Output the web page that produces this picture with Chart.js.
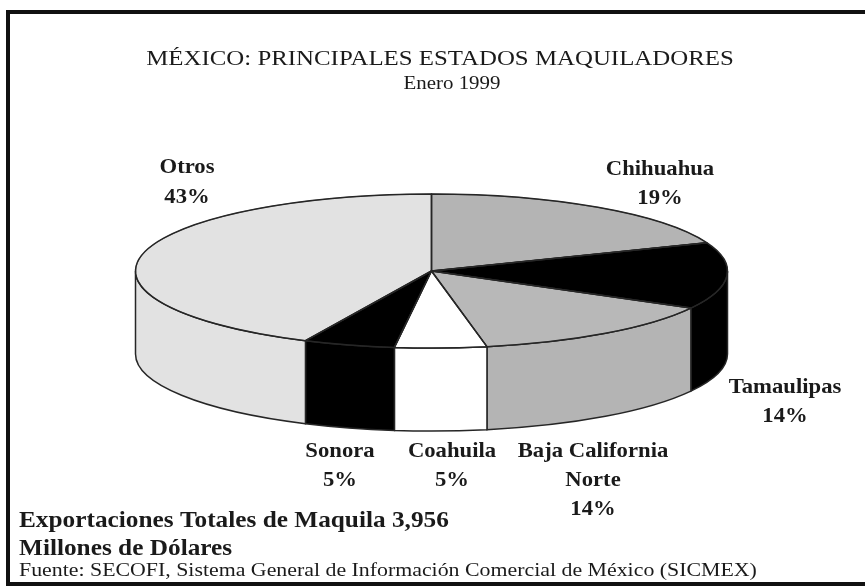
<!DOCTYPE html>
<html>
<head>
<meta charset="utf-8">
<script src="https://cdn.jsdelivr.net/npm/chart.js@4.4.1/dist/chart.umd.min.js"></script>
<style>
  html, body { margin: 0; padding: 0; background: #ffffff; width: 865px; height: 588px; overflow: hidden; }
  #frame { position: absolute; left: 6px; top: 10px; width: 900px; height: 576px; border: 4px solid #111; box-sizing: border-box; }
  #wrap { position: absolute; left: 0; top: 0; width: 865px; height: 588px; }
</style>
</head>
<body>
<div id="frame"></div>
<div id="wrap"><canvas id="c" width="865" height="588"></canvas></div>
<script>
// ---- data ----
const categories = ['Chihuahua', 'Tamaulipas', 'Baja California Norte', 'Coahuila', 'Sonora', 'Otros'];
const shares = [19, 14, 14, 5, 5, 43];
const titleText = 'MÉXICO: PRINCIPALES ESTADOS MAQUILADORES';
const subtitleText = 'Enero 1999';
const totalText = 'Exportaciones Totales de Maquila 3,956';
const unitText = 'Millones de Dólares';
const sourceText = 'Fuente: SECOFI, Sistema General de Información Comercial de México (SICMEX)';

// ---- style ----
const sliceColors = ['#b4b4b4', '#000000', '#b8b8b8', '#ffffff', '#000000', '#e2e2e2'];
const sideColors  = ['#b0b0b0', '#000000', '#b4b4b4', '#ffffff', '#000000', '#e2e2e2'];
const PIE_R = 296, SQUASH = 77 / 296, DEPTH = 83;
const SERIF = '"Liberation Serif", "Times New Roman", serif';
const INK = '#1a1a1a';
const EDGE = '#262626';

// label placement: [lines], centre x, first baseline y, line gap
const labelLayout = [
  { lines: ['Chihuahua', '19%'], x: 660, y: 175, gap: 29 },
  { lines: ['Tamaulipas', '14%'], x: 785, y: 393, gap: 29 },
  { lines: ['Baja California', 'Norte', '14%'], x: 593, y: 457, gap: 29 },
  { lines: ['Coahuila', '5%'], x: 452, y: 457, gap: 29 },
  { lines: ['Sonora', '5%'], x: 340, y: 457, gap: 29 },
  { lines: ['Otros', '43%'], x: 187, y: 173, gap: 30 }
];

function drawStretched(ctx, text, x, y, align, sx) {
  ctx.save();
  ctx.translate(x, y);
  ctx.scale(sx, 1);
  ctx.textAlign = align;
  ctx.fillText(text, 0, 0);
  ctx.restore();
}

const pie3d = {
  id: 'pie3d',
  beforeDatasetsDraw(chart) {
    const ctx = chart.ctx;
    const meta = chart.getDatasetMeta(0);
    const a0 = meta.data[0];
    const cx = a0.x, cy = a0.y;
    const rx = a0.outerRadius, ry = rx * SQUASH;
    ctx.save();
    ctx.lineWidth = 1.5;
    ctx.strokeStyle = EDGE;
    meta.data.forEach((arc, i) => {
      const s = Math.max(arc.startAngle, 0);
      const e = Math.min(arc.endAngle, Math.PI);
      if (e <= s) return;
      ctx.beginPath();
      ctx.ellipse(cx, cy, rx, ry, 0, s, e, false);
      ctx.lineTo(cx + rx * Math.cos(e), cy + DEPTH + ry * Math.sin(e));
      ctx.ellipse(cx, cy + DEPTH, rx, ry, 0, e, s, true);
      ctx.closePath();
      ctx.fillStyle = sideColors[i];
      ctx.fill();
      ctx.stroke();
    });
    ctx.restore();
    ctx.save();
    ctx.translate(cx, cy);
    ctx.scale(1, SQUASH);
    ctx.translate(-cx, -cy);
  },
  afterDatasetsDraw(chart) {
    const ctx = chart.ctx;
    ctx.restore();
    const meta = chart.getDatasetMeta(0);
    const a0 = meta.data[0];
    const cx = a0.x, cy = a0.y;
    const rx = a0.outerRadius, ry = rx * SQUASH;
    ctx.save();
    ctx.lineWidth = 1.5;
    ctx.strokeStyle = EDGE;
    ctx.lineJoin = 'round';
    meta.data.forEach((arc) => {
      ctx.beginPath();
      ctx.moveTo(cx, cy);
      ctx.ellipse(cx, cy, rx, ry, 0, arc.startAngle, arc.endAngle, false);
      ctx.closePath();
      ctx.stroke();
    });
    ctx.restore();
  },
  afterDraw(chart) {
    const ctx = chart.ctx;
    ctx.save();
    ctx.fillStyle = INK;
    ctx.textBaseline = 'alphabetic';
    ctx.font = '22px ' + SERIF;
    drawStretched(ctx, titleText, 440, 65, 'center', 1.13);
    ctx.font = '19px ' + SERIF;
    drawStretched(ctx, subtitleText, 452, 89, 'center', 1.1);
    ctx.font = 'bold 21px ' + SERIF;
    labelLayout.forEach((lab) => {
      lab.lines.forEach((t, j) => drawStretched(ctx, t, lab.x, lab.y + j * lab.gap, 'center', 1.08));
    });
    ctx.font = 'bold 23px ' + SERIF;
    drawStretched(ctx, totalText, 19, 527, 'left', 1.1);
    drawStretched(ctx, unitText, 19, 555, 'left', 1.1);
    ctx.font = '19px ' + SERIF;
    drawStretched(ctx, sourceText, 19, 576, 'left', 1.15);
    ctx.restore();
  }
};

new Chart(document.getElementById('c'), {
  type: 'pie',
  data: {
    labels: categories,
    datasets: [{
      data: shares,
      backgroundColor: sliceColors,
      borderColor: EDGE,
      borderWidth: 1,
      clip: false
    }]
  },
  options: {
    responsive: false,
    animation: false,
    events: [],
    radius: PIE_R,
    layout: { padding: { top: 95, bottom: 141, left: 0, right: 2 } },
    plugins: {
      legend: { display: false },
      tooltip: { enabled: false },
      title: { display: false }
    }
  },
  plugins: [pie3d]
});
</script>
</body>
</html>
